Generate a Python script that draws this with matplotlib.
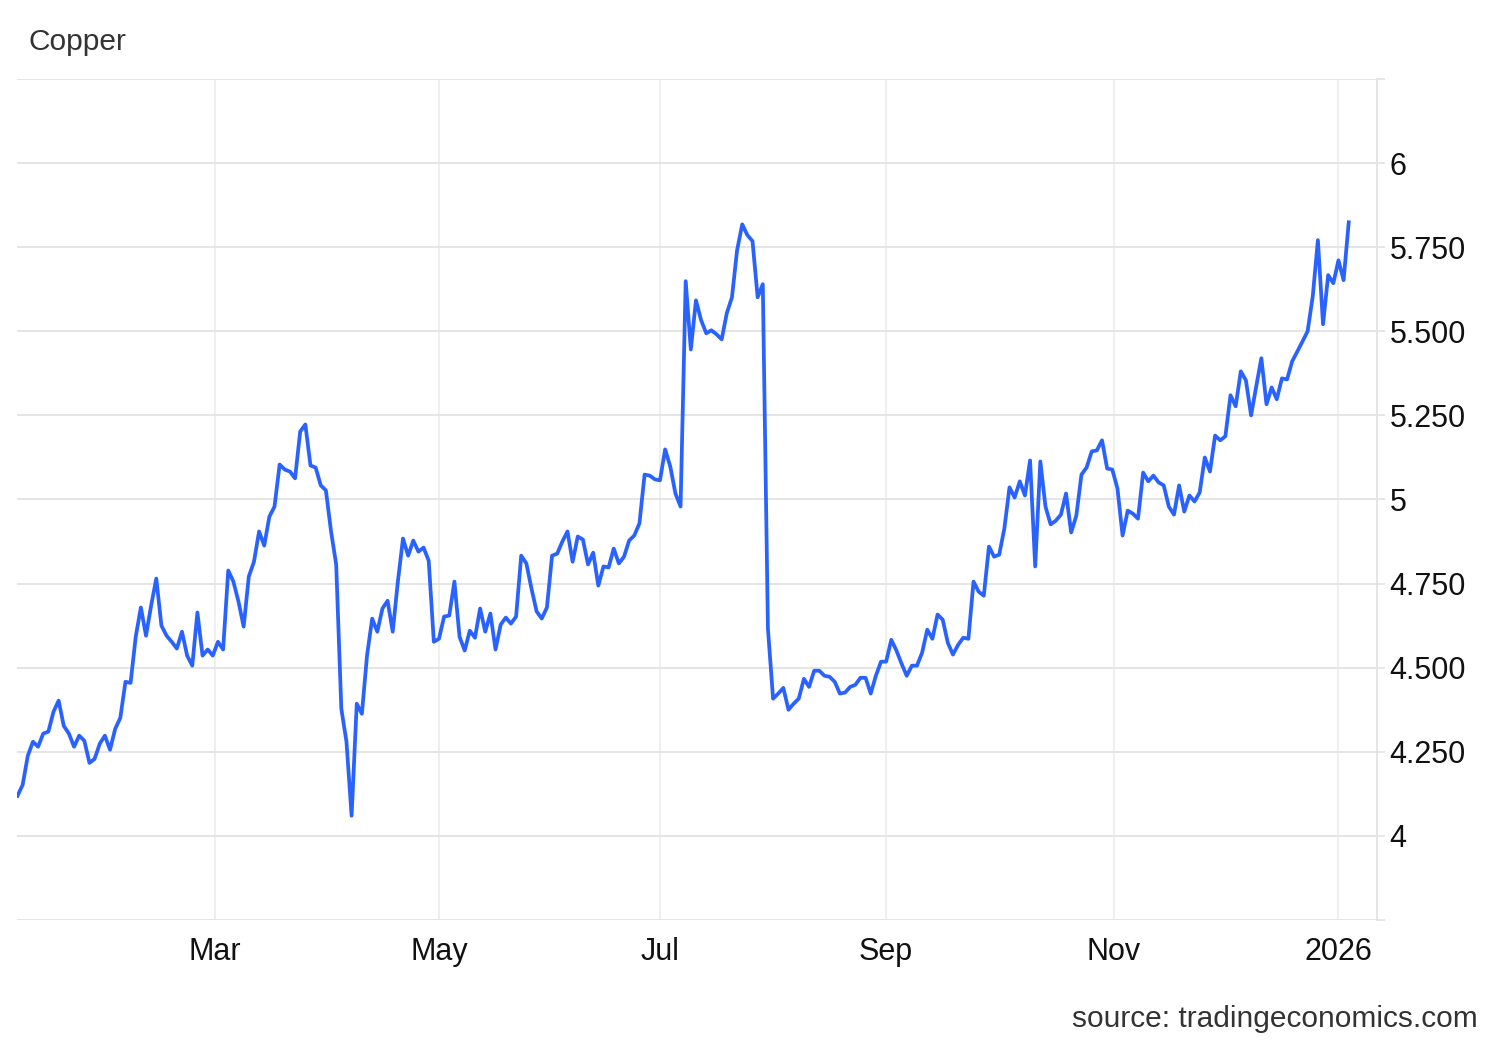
import numpy as np
import pandas as pd
import matplotlib
matplotlib.use("Agg")
import matplotlib.pyplot as plt

plt.rcParams["font.family"] = ["Liberation Sans", "DejaVu Sans"]

# daily copper price (USD/lb), one value per business day from 7 Jan 2025
prices = [
    4.119, 4.152, 4.238, 4.280, 4.265, 4.304, 4.310, 4.369, 4.402, 4.327,
    4.304, 4.265, 4.298, 4.283, 4.217, 4.229, 4.274, 4.298, 4.256, 4.318,
    4.351, 4.458, 4.455, 4.592, 4.679, 4.595, 4.685, 4.765, 4.625, 4.595,
    4.577, 4.557, 4.607, 4.536, 4.506, 4.664, 4.536,
    4.554, 4.536, 4.577, 4.554, 4.789, 4.756, 4.696, 4.622, 4.771, 4.815,
    4.905, 4.863, 4.949, 4.979, 5.104, 5.089, 5.083, 5.063, 5.202, 5.223,
    5.101, 5.095, 5.042, 5.027, 4.905,
    4.807, 4.378, 4.280, 4.060, 4.393, 4.363, 4.536, 4.646, 4.607, 4.676,
    4.699, 4.607, 4.756, 4.884, 4.833, 4.878, 4.845, 4.857, 4.818, 4.577,
    4.586, 4.652, 4.655,
    4.756, 4.592, 4.551, 4.610, 4.589, 4.676, 4.607, 4.661, 4.554, 4.628,
    4.649, 4.631, 4.652, 4.833, 4.810, 4.735, 4.667, 4.646, 4.679, 4.833,
    4.839, 4.875, 4.905, 4.815, 4.890, 4.881, 4.807, 4.842, 4.744, 4.801,
    4.798, 4.854, 4.810, 4.830, 4.878, 4.893, 4.929, 5.074, 5.071, 5.060,
    5.057,
    5.149, 5.098, 5.018, 4.979, 5.649, 5.446, 5.592, 5.533, 5.494, 5.503,
    5.491, 5.476, 5.554, 5.601, 5.741, 5.818, 5.786, 5.768, 5.601, 5.640,
    4.616, 4.408, 4.423, 4.440,
    4.375, 4.393, 4.408, 4.467, 4.443, 4.491, 4.491, 4.476, 4.473, 4.458,
    4.423, 4.426, 4.443, 4.449, 4.470, 4.470, 4.423, 4.476, 4.518, 4.518,
    4.583, 4.551, 4.512, 4.476, 4.506, 4.506, 4.545, 4.613, 4.586, 4.658,
    4.643, 4.574, 4.539, 4.568, 4.589, 4.586,
    4.756, 4.726, 4.714, 4.860, 4.830, 4.836, 4.914, 5.036, 5.006, 5.054,
    5.012, 5.116, 4.801, 5.113, 4.979, 4.926, 4.937, 4.955, 5.018, 4.902,
    4.952, 5.074, 5.095, 5.143, 5.146, 5.176, 5.092, 5.089, 5.033, 4.893,
    4.967, 4.958, 4.943,
    5.080, 5.054, 5.071, 5.051, 5.042, 4.979, 4.955, 5.042, 4.964, 5.012,
    4.994, 5.021, 5.125, 5.083, 5.190, 5.176, 5.188, 5.310, 5.277, 5.381,
    5.354, 5.250, 5.336, 5.420,
    5.283, 5.333, 5.298, 5.360, 5.357, 5.411, 5.440, 5.470, 5.500, 5.604,
    5.771, 5.521, 5.667, 5.643, 5.711, 5.652, 5.824,
]
dates = pd.bdate_range("2025-01-07", periods=len(prices))

y_ticks = [3.75, 4, 4.25, 4.5, 4.75, 5, 5.25, 5.5, 5.75, 6, 6.25]
y_labels = ["", "4", "4.250", "4.500", "4.750", "5", "5.250", "5.500", "5.750", "6", ""]
month_starts = pd.to_datetime(["2025-03-01", "2025-05-01", "2025-07-01",
                               "2025-09-01", "2025-11-01", "2026-01-01"])
x_labels = ["Mar", "May", "Jul", "Sep", "Nov", "2026"]

# trading-day axis: points evenly spaced, month ticks placed between sessions
idx = np.arange(len(prices))
tick_pos = np.interp(month_starts.asi8, dates.asi8, idx)

grid_col = "#e3e3e3"

fig = plt.figure(figsize=(15, 10.4), dpi=100)
ax = fig.add_axes([17 / 1500, 120 / 1040, 1360 / 1500, 841 / 1040])

ax.plot(idx, prices, color="#2962ff", lw=2.7, solid_joinstyle="round", zorder=3)

ax.set_ylim(3.75, 6.25)
ax.set_xlim(-0.1, 264.5)

ax.set_yticks(y_ticks)
ax.set_yticklabels(y_labels)
ax.yaxis.tick_right()
ax.tick_params(axis="y", length=6, width=1.2, color=grid_col, pad=3,
               labelsize=22, labelcolor="#111111")
ax.set_xticks(tick_pos)
ax.set_xticklabels(x_labels)
ax.tick_params(axis="x", length=0, pad=12, labelsize=22, labelcolor="#111111")

ax.grid(axis="y", color=grid_col, lw=1.3)
ax.grid(axis="x", color="#eeeeee", lw=1.3)
ax.set_axisbelow(True)

for side in ["left", "top", "bottom"]:
    ax.spines[side].set_visible(False)
ax.spines["right"].set_color(grid_col)
ax.spines["right"].set_linewidth(1.3)

fig.text(29 / 1500, 1 - 42 / 1040, "Copper", fontsize=21.5, color="#333333",
         ha="left", va="center")
fig.text(1478 / 1500, 1 - 1019 / 1040, "source: tradingeconomics.com",
         fontsize=21.5, color="#333333", ha="right", va="center")

fig.savefig("out.png", dpi=100)
